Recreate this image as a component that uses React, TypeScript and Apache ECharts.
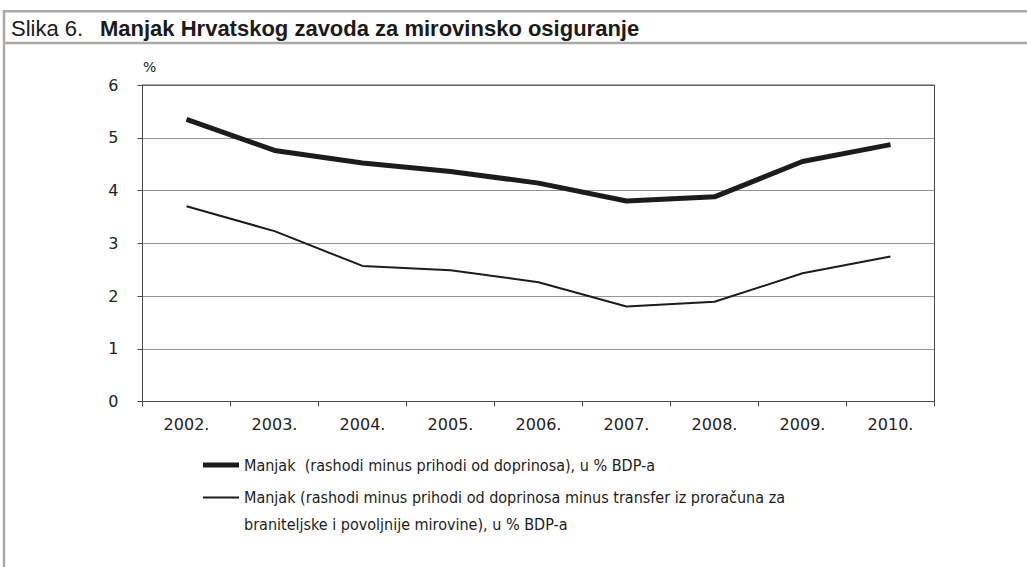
import React, { useEffect, useRef } from "react";
import * as echarts from "echarts";

const titlePrefix = "Slika 6.";
const titleMain = "Manjak Hrvatskog zavoda za mirovinsko osiguranje";
const years = ["2002.", "2003.", "2004.", "2005.", "2006.", "2007.", "2008.", "2009.", "2010."];
const deficitTotal = [5.35, 4.76, 4.52, 4.36, 4.14, 3.8, 3.88, 4.55, 4.87];
const deficitNet = [3.7, 3.23, 2.57, 2.49, 2.26, 1.8, 1.89, 2.43, 2.75];
const seriesName1 = "Manjak  (rashodi minus prihodi od doprinosa), u % BDP-a";
const seriesName2Line1 = "Manjak (rashodi minus prihodi od doprinosa minus transfer iz proračuna za";
const seriesName2Line2 = "braniteljske i povoljnije mirovine), u % BDP-a";
const seriesName2 = seriesName2Line1 + " " + seriesName2Line2;
const yUnit = "%";

const FONT = "DejaVu Sans, sans-serif";
const TITLE_FONT = "Liberation Sans, Arial, sans-serif";
const LEG_FONT = "DejaVu Sans Condensed, DejaVu Sans, sans-serif";
const FRAME = "#a9a9a9";
const AXIS = "#4a4a4a";
const INK = "#1c1c1c";

export default function App() {
  const ref = useRef<HTMLDivElement>(null);
  useEffect(() => {
    if (!ref.current) return;
    const chart = echarts.init(ref.current, null, { renderer: "svg" });
    chart.setOption({
      animation: false,
      backgroundColor: "#ffffff",
      grid: {
        left: 142.5,
        top: 85,
        right: 92.5,
        bottom: 165.5,
        show: true,
        borderColor: AXIS,
        borderWidth: 1,
      },
      xAxis: {
        type: "category",
        data: years,
        boundaryGap: true,
        axisLine: { lineStyle: { color: AXIS, width: 1 } },
        axisTick: { show: true, length: 5, inside: false, lineStyle: { color: AXIS } },
        axisLabel: { color: "#222", fontFamily: FONT, fontSize: 16, margin: 15 },
        splitLine: { show: false },
      },
      yAxis: {
        type: "value",
        min: 0,
        max: 6,
        interval: 1,
        axisLine: { show: true, lineStyle: { color: AXIS, width: 1 } },
        axisTick: { show: true, length: 5, inside: false, lineStyle: { color: AXIS } },
        axisLabel: { color: "#222", fontFamily: FONT, fontSize: 16, margin: 24, padding: [5, 0, 0, 0] },
        splitLine: { show: true, lineStyle: { color: "#2a2a2a", type: [1, 1], width: 1 } },
      },
      legend: [
        {
          data: [seriesName1],
          orient: "vertical",
          left: 198,
          top: 450,
          icon: "rect",
          itemWidth: 36,
          itemHeight: 5,
          selectedMode: false,
          textStyle: { color: INK, fontFamily: LEG_FONT, fontSize: 16, lineHeight: 20 },
        },
        {
          data: [seriesName2],
          orient: "vertical",
          left: 198,
          top: 452,
          icon: "rect",
          itemWidth: 36,
          itemHeight: 2,
          selectedMode: false,
          formatter: () => "\n" + seriesName2Line1 + "\n" + seriesName2Line2,
          textStyle: { color: INK, fontFamily: LEG_FONT, fontSize: 16, lineHeight: 27 },
        },
      ],
      graphic: [
        { type: "rect", shape: { x: 3, y: 10, width: 1024, height: 2.5 }, style: { fill: FRAME } },
        { type: "rect", shape: { x: 3, y: 41.8, width: 1024, height: 2.5 }, style: { fill: FRAME } },
        { type: "rect", shape: { x: 2.8, y: 10, width: 2.4, height: 557 }, style: { fill: FRAME } },
        {
          type: "text",
          x: 11,
          y: 28,
          style: { text: titlePrefix, fill: "#1a1a1a", font: `22px ${TITLE_FONT}`, verticalAlign: "middle" },
        },
        {
          type: "text",
          x: 100,
          y: 28,
          style: { text: titleMain, fill: "#1a1a1a", font: `bold 22px ${TITLE_FONT}`, verticalAlign: "middle" },
        },
        {
          type: "text",
          x: 143,
          y: 67,
          style: { text: yUnit, fill: "#222", font: `14px ${FONT}`, verticalAlign: "middle" },
        },
      ],
      series: [
        {
          name: seriesName1,
          type: "line",
          data: deficitTotal,
          symbol: "none",
          lineStyle: { color: INK, width: 5 },
          itemStyle: { color: INK },
          z: 3,
        },
        {
          name: seriesName2,
          type: "line",
          data: deficitNet,
          symbol: "none",
          lineStyle: { color: INK, width: 2 },
          itemStyle: { color: INK },
          z: 2,
        },
      ],
    });
    return () => chart.dispose();
  }, []);
  return (
    <div
      ref={ref}
      style={{ position: "fixed", left: 0, top: 0, width: 1027, height: 567, background: "#fff" }}
    />
  );
}
